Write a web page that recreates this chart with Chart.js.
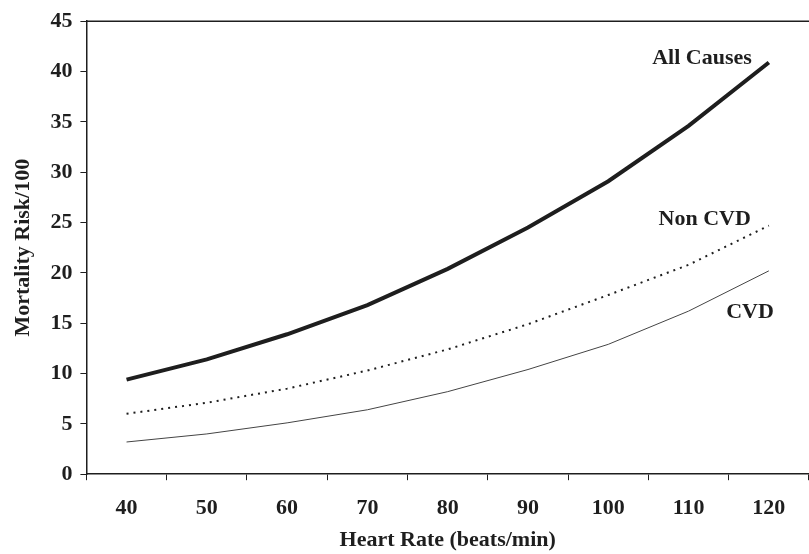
<!DOCTYPE html>
<html lang="en">
  <head>
    <meta charset="UTF-8" />
    <title>Mortality Risk by Heart Rate</title>
    <script src="https://cdnjs.cloudflare.com/ajax/libs/Chart.js/4.4.1/chart.umd.min.js"></script>
    <style>
      html, body { margin: 0; padding: 0; background: #fff; }
      #wrap { width: 809px; height: 554px; }
    </style>
  </head>
  <body>
    <div id="wrap"><canvas id="hrChart"></canvas></div>

    <script>
      const heartRates = ["40", "50", "60", "70", "80", "90", "100", "110", "120"];
      const allCauses = [9.4, 11.4, 13.9, 16.8, 20.4, 24.5, 29.1, 34.6, 40.9];
      const nonCvd = [6.0, 7.1, 8.5, 10.3, 12.4, 14.9, 17.8, 20.8, 24.7];
      const cvd = [3.2, 4.0, 5.1, 6.4, 8.2, 10.4, 12.9, 16.2, 20.2];
      const yTicks = [0, 5, 10, 15, 20, 25, 30, 35, 40, 45];

      const ink = "#1e1e1e";
      const serif = "'Liberation Serif', 'Times New Roman', serif";
      const fontSize = 22;

      // top border of the plot and the series labels
      const extras = {
        id: "extras",
        afterDraw(chart) {
          const { ctx, chartArea, scales } = chart;
          ctx.save();
          ctx.strokeStyle = ink;
          ctx.lineWidth = 1.5;
          ctx.beginPath();
          ctx.moveTo(chartArea.left, chartArea.top);
          ctx.lineTo(chartArea.right, chartArea.top);
          ctx.stroke();

          ctx.fillStyle = ink;
          ctx.font = "bold " + fontSize + "px " + serif;
          ctx.textAlign = "right";
          ctx.textBaseline = "middle";
          const last = heartRates.length - 1;
          const xLast = scales.x.getPixelForValue(last);
          ctx.fillText("All Causes", xLast - 17, scales.y.getPixelForValue(allCauses[last]) - 4);
          ctx.fillText("Non CVD", xLast - 18, scales.y.getPixelForValue(nonCvd[last]) - 6);
          ctx.fillText("CVD", xLast + 5, scales.y.getPixelForValue(cvd[last]) + 41);
          ctx.restore();
        },
      };

      new Chart(document.getElementById("hrChart"), {
        type: "line",
        data: {
          labels: heartRates,
          datasets: [
            {
              label: "All Causes",
              data: allCauses,
              borderColor: ink,
              borderWidth: 4,
              pointRadius: 0,
              tension: 0,
            },
            {
              label: "Non CVD",
              data: nonCvd,
              borderColor: ink,
              borderWidth: 2,
              borderDash: [2, 5],
              pointRadius: 0,
              tension: 0,
            },
            {
              label: "CVD",
              data: cvd,
              borderColor: "#444",
              borderWidth: 1,
              pointRadius: 0,
              tension: 0,
            },
          ],
        },
        options: {
          responsive: true,
          maintainAspectRatio: false,
          animation: false,
          layout: { padding: { top: 8, right: 0, left: 10, bottom: 0 } },
          plugins: {
            legend: { display: false },
            tooltip: { enabled: false },
          },
          scales: {
            x: {
              offset: true,
              grid: {
                offset: true,
                drawOnChartArea: false,
                tickLength: 6,
                color: ink,
              },
              border: { color: ink, width: 1.5 },
              ticks: {
                color: ink,
                padding: 15,
                font: { family: serif, size: fontSize, weight: "bold" },
              },
              title: {
                display: true,
                text: "Heart Rate (beats/min)",
                color: ink,
                padding: { top: -9, bottom: 0 },
                font: { family: serif, size: fontSize, weight: "bold" },
              },
            },
            y: {
              min: 0,
              max: 45,
              afterBuildTicks: (axis) => {
                axis.ticks = yTicks.map((v) => ({ value: v }));
              },
              grid: {
                drawOnChartArea: false,
                tickLength: 6,
                color: ink,
              },
              border: { color: ink, width: 1.5 },
              ticks: {
                color: ink,
                padding: 8,
                font: { family: serif, size: fontSize, weight: "bold" },
              },
              title: {
                display: true,
                text: "Mortality Risk/100",
                color: ink,
                padding: { top: 0, bottom: 6 },
                font: { family: serif, size: fontSize, weight: "bold" },
              },
            },
          },
        },
        plugins: [extras],
      });
    </script>
  </body>
</html>
